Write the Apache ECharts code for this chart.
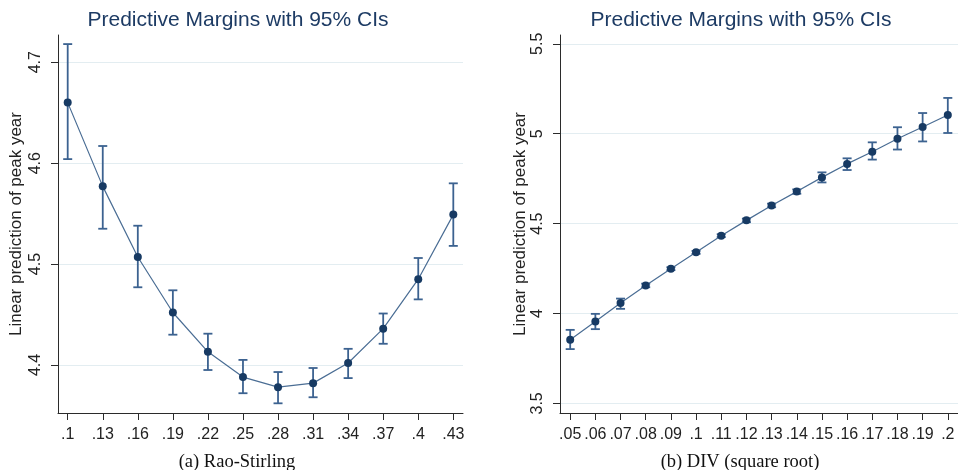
<!DOCTYPE html>
<html><head><meta charset="utf-8">
<script src="https://cdn.jsdelivr.net/npm/echarts@6/dist/echarts.min.js"></script>
<style>html,body{margin:0;padding:0;background:#fff}#c{width:958px;height:470px}</style>
</head><body><div id="c"></div>
<script>
// Panel (a) Rao-Stirling
const xA = [0.10,0.13,0.16,0.19,0.22,0.25,0.28,0.31,0.34,0.37,0.40,0.43];
const xLabelsA = ['.1','.13','.16','.19','.22','.25','.28','.31','.34','.37','.4','.43'];
const yA  = [4.660,4.577,4.507,4.452,4.413,4.388,4.378,4.382,4.402,4.436,4.485,4.549];
const loA = [4.604,4.535,4.477,4.430,4.395,4.372,4.362,4.368,4.387,4.421,4.465,4.518];
const hiA = [4.718,4.617,4.538,4.474,4.431,4.405,4.393,4.397,4.416,4.451,4.506,4.580];
const yTicksA = [4.4,4.5,4.6,4.7];

// Panel (b) DIV (square root)
const xB = [0.05,0.06,0.07,0.08,0.09,0.10,0.11,0.12,0.13,0.14,0.15,0.16,0.17,0.18,0.19,0.20];
const xLabelsB = ['.05','.06','.07','.08','.09','.1','.11','.12','.13','.14','.15','.16','.17','.18','.19','.2'];
const yB  = [3.854,3.955,4.058,4.156,4.249,4.340,4.433,4.518,4.601,4.678,4.757,4.832,4.900,4.972,5.037,5.104];
const loB = [3.802,3.913,4.026,4.146,4.241,4.332,4.425,4.508,4.591,4.666,4.729,4.798,4.856,4.912,4.957,5.004];
const hiB = [3.909,3.998,4.083,4.166,4.257,4.348,4.441,4.528,4.611,4.690,4.785,4.863,4.952,5.036,5.115,5.199];
const yTicksB = [3.5,4,4.5,5,5.5];

const titleText = 'Predictive Margins with 95% CIs';
const yName = 'Linear prediction of peak year';
const subA = '(a) Rao-Stirling';
const subB = '(b) DIV (square root)';

const AXIS = '#2b2b2b', GRIDC = '#e3edf1', LINEC = '#4a6d94', BARC = '#3c6290', DOTC = '#173a63', TITLEC = '#1d3b64';
const FONT = '"Liberation Sans", Arial, sans-serif';

function lab(vals, labels){
  return function(v){
    for (let i=0;i<vals.length;i++) if (Math.abs(vals[i]-v)<1e-9) return labels[i];
    return '';
  };
}
function xAxisCfg(grid, min, max, vals, labels){
  return {type:'value', gridIndex:grid, min:min, max:max,
    axisLine:{show:true, onZero:false, lineStyle:{color:AXIS, width:1}},
    axisTick:{show:true, length:7, customValues:vals, lineStyle:{color:AXIS}},
    axisLabel:{customValues:vals, formatter:lab(vals,labels), color:'#222', fontSize:16, fontFamily:FONT, margin:14},
    splitLine:{show:false}};
}
function yAxisCfg(grid, min, max, ticks, gap){
  return {type:'value', gridIndex:grid, min:min, max:max,
    name:yName, nameLocation:'middle', nameGap:gap, nameRotate:90,
    nameTextStyle:{color:'#222', fontSize:17, fontFamily:FONT},
    axisLine:{show:true, lineStyle:{color:AXIS, width:1}},
    axisTick:{show:true, length:7, customValues:ticks, lineStyle:{color:AXIS}},
    axisLabel:{customValues:ticks, rotate:90, color:'#222', fontSize:16, fontFamily:FONT, margin:14,
      formatter:function(v){return String(v);}},
    splitLine:{show:true, showMinLine:true, showMaxLine:true, lineStyle:{color:GRIDC, width:1.2}}};
}
function errSeries(xi, yi, xs, lo, hi){
  return {type:'custom', xAxisIndex:xi, yAxisIndex:yi, z:2,
    data: xs.map((x,i)=>[x, lo[i], hi[i]]),
    renderItem:function(params, api){
      const a = api.coord([api.value(0), api.value(1)]);
      const b = api.coord([api.value(0), api.value(2)]);
      const w = 4.5;
      const st = {stroke:BARC, lineWidth:1.8};
      return {type:'group', children:[
        {type:'line', shape:{x1:a[0],y1:a[1],x2:b[0],y2:b[1]}, style:st},
        {type:'line', shape:{x1:a[0]-w,y1:a[1],x2:a[0]+w,y2:a[1]}, style:st},
        {type:'line', shape:{x1:b[0]-w,y1:b[1],x2:b[0]+w,y2:b[1]}, style:st}
      ]};
    }};
}
function lineSeries(xi, yi, xs, ys){
  return {type:'line', xAxisIndex:xi, yAxisIndex:yi, z:3,
    data: xs.map((x,i)=>[x, ys[i]]),
    symbol:'circle', symbolSize:8, showSymbol:true,
    itemStyle:{color:DOTC}, lineStyle:{color:LINEC, width:1.2}, animation:false};
}

const chart = echarts.init(document.getElementById('c'), null, {renderer:'canvas'});
chart.setOption({
  animation:false,
  backgroundColor:'#ffffff',
  grid:[
    {left:58, top:35, width:405, height:378},
    {left:560, top:35, width:406, height:378}
  ],
  xAxis:[
    xAxisCfg(0, 0.0917, 0.4383, xA, xLabelsA),
    xAxisCfg(1, 0.04595, 0.20405, xB, xLabelsB)
  ],
  yAxis:[
    yAxisCfg(0, 4.3524, 4.727, yTicksA, 33),
    yAxisCfg(1, 3.4466, 5.549, yTicksB, 31)
  ],
  series:[
    errSeries(0,0,xA,loA,hiA), lineSeries(0,0,xA,yA),
    errSeries(1,1,xB,loB,hiB), lineSeries(1,1,xB,yB)
  ],
  graphic:[
    {type:'text', x:238, y:20, style:{text:titleText, fill:TITLEC, font:'21px '+FONT, align:'center', verticalAlign:'middle'}},
    {type:'text', x:741, y:20, style:{text:titleText, fill:TITLEC, font:'21px '+FONT, align:'center', verticalAlign:'middle'}},
    {type:'text', x:237, y:462, style:{text:subA, fill:'#111', font:'18.5px "Liberation Serif", "Times New Roman", serif', align:'center', verticalAlign:'middle'}},
    {type:'text', x:740, y:462, style:{text:subB, fill:'#111', font:'18.5px "Liberation Serif", "Times New Roman", serif', align:'center', verticalAlign:'middle'}}
  ]
});
</script></body></html>
